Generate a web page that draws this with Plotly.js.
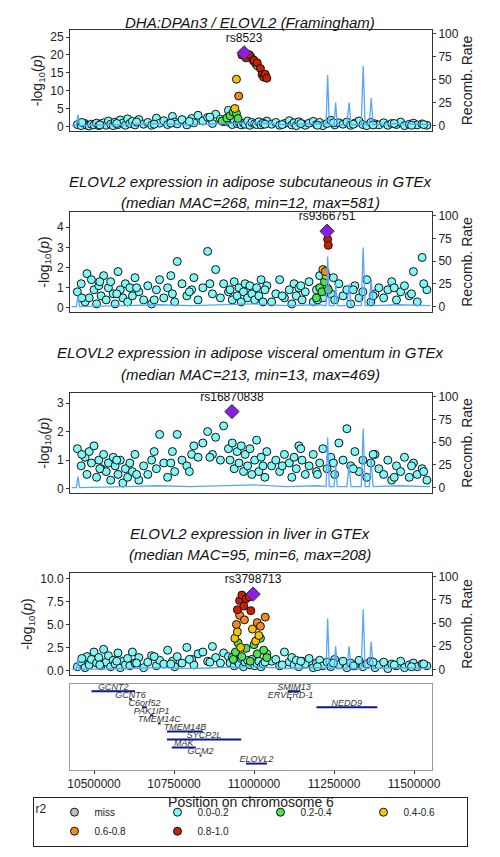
<!DOCTYPE html>
<html><head><meta charset="utf-8">
<script src="https://cdn.plot.ly/plotly-3.0.1.min.js"></script>
<style>body{margin:0;background:#fff}#chart{width:500px;height:857px}</style>
</head><body><div id="chart"></div>
<script>
// ---------------- data (positions in kb) ----------------
const bgPos = [10448,10460,10472,10478,10485,10492,10500,10508,10515,10522,10530,10538,10545,10552,10560,10566,10575,10582,10590,10598,10605,10612,10620,10628,10640,10655,10668,10680,10695,10705,10718,10730,10745,10752,10760,10775,10790,10805,10812,10825,10840,10855,10870,10880,10895,10905,10920,11040,11055,11068,11080,11095,11110,11118,11125,11132,11140,11150,11160,11172,11185,11195,11205,11215,11228,11240,11252,11265,11278,11290,11302,11315,11328,11340,11352,11365,11378,11390,11405,11418,11430,11445,11458,11470,11485,11498,11510,11525,11540];
const bgPos2 = [10925,10932,10938,10947,10953,10960,10967,10972,10980,10987,10993,11002,11008,11015,11022,11028,11034,10462,10518,10571,10633,10688,10740,10798,10862,11088,11146,11198,11248,11310,11372,11438,11492,11530];

const p1Bg = [0.5,0.2,0.8,0.3,0.1,0.6,0.4,0.9,0.2,0.7,1.0,0.3,1.5,0.6,0.2,1.2,0.5,1.8,0.9,0.3,2.1,0.8,1.4,0.4,1.9,0.6,1.1,0.3,2.3,0.9,1.6,0.5,2.8,1.2,0.7,1.9,0.4,2.2,1.0,3.1,1.5,2.5,0.8,3.4,2.0,1.3,4.5,1.5,0.6,1.1,0.3,0.8,1.6,0.4,1.0,0.2,1.3,0.7,0.3,0.9,1.4,0.5,1.1,0.2,0.8,1.7,0.4,1.0,0.6,1.2,0.3,0.9,1.5,0.5,0.2,1.1,0.7,0.4,1.0,0.3,0.8,0.5,1.2,0.2,0.6,0.9,0.4,0.7,0.3];
const p1Bg2 = [1.0,0.5,1.8,0.8,1.2,0.4,0.9,0.6,1.5,0.3,1.1,0.7,0.5,1.3,0.4,0.9,0.6,1.1,0.4,0.8,1.2,0.6,0.9,1.4,2.6,0.5,0.8,0.3,1.0,0.6,0.4,0.8,0.3,0.5];
const p1Green = {pos:[10900,10915,10925,10935,10945,10950,10990,10995,11000,11005,11010], y:[1.5,2.3,3.0,4.0,3.6,2.2,19.5,18.8,18.2,17.6,17.0]};
const p1Yellow = {pos:[10940,10945], y:[5.0,13.2]};
const p1Orange = {pos:[10952], y:[8.5]};
const p1Red = {pos:[10962,10975,10985,11000,11010,11020,11025,11030,11035,11040], y:[20.0,19.2,20.1,18.5,17.8,16.2,14.5,13.8,14.6,13.5]};
const p1Lead = {pos:[10969], y:[20.6], name:["rs8523"]};

const p2Bg = [0.8,1.2,0.3,1.7,0.5,1.4,0.9,0.2,1.1,0.6,1.6,0.4,1.0,1.3,0.7,0.2,1.8,0.9,0.5,1.2,0.3,1.0,0.6,1.5,0.8,0.4,1.1,0.2,0.9,1.4,0.5,1.0,0.7,0.3,2.3,1.2,0.6,0.9,1.5,0.4,1.0,2.8,0.7,1.9,0.5,1.2,0.8,1.1,0.3,0.7,1.4,0.5,0.9,0.2,1.2,0.6,1.0,0.4,0.8,1.3,0.3,0.9,1.6,0.5,1.0,0.7,0.4,1.2,0.6,0.9,0.2,1.1,0.5,0.8,1.4,0.3,0.7,1.0,0.5,0.9,1.3,0.4,0.8,1.1,0.6,1.8,0.3,2.5,0.9];
const p2Bg2 = [0.9,0.4,1.3,0.6,1.0,0.3,0.8,1.2,0.5,1.1,0.7,0.4,1.0,0.6,1.4,0.3,0.9,0.5,1.3,0.7,1.0,0.4,1.6,0.8,1.2,0.6,1.1,0.4,1.5,0.9,0.6,1.0,0.7,1.2];
const p2Green = {pos:[11195,11205,11212,11220,11232], y:[0.5,1.0,0.8,1.3,0.9]};
const p2Yellow = {pos:[11215,11225], y:[1.9,1.6]};
const p2Orange = {pos:[11222], y:[1.8]};
const p2Red = {pos:[11230,11232], y:[3.4,3.1]};
const p2Lead = {pos:[11228], y:[3.8], name:["rs9366751"]};

const p3Bg = [1.4,0.8,1.1,0.5,1.3,0.9,1.5,0.4,1.0,0.7,1.2,0.6,0.9,0.3,1.1,0.8,0.5,1.0,0.2,0.7,0.4,0.9,0.6,1.2,0.3,0.8,0.5,1.0,0.7,1.9,0.9,0.4,1.3,0.6,1.9,1.0,0.8,1.2,1.5,1.1,1.6,2.0,1.2,1.8,1.0,2.2,1.4,1.3,0.8,1.0,0.6,1.2,0.9,0.4,1.1,0.7,1.5,1.0,0.5,0.8,1.2,0.6,0.9,1.4,0.7,1.1,0.5,1.6,1.0,2.1,0.8,1.3,0.6,1.0,0.4,0.9,1.2,0.7,0.5,1.0,0.3,0.8,0.6,1.1,0.4,0.9,0.5,0.7,0.3];
const p3Bg2 = [1.0,1.6,0.7,1.3,0.9,1.5,0.6,1.2,0.8,1.4,0.5,1.0,1.7,0.6,1.1,0.8,0.4,1.2,0.7,1.0,0.5,1.3,0.9,0.6,1.1,0.8,1.4,0.5,0.9,0.7,1.2,0.4,0.8,0.6];
const p3Lead = {pos:[10931], y:[2.7], name:["rs16870838"]};

const p4Bg = [0.4,0.9,0.3,1.5,0.6,1.2,2.0,0.8,1.4,0.5,2.3,0.9,1.6,0.4,1.1,0.7,1.9,0.3,1.0,0.6,1.3,0.5,2.0,0.8,1.4,0.3,0.9,1.6,0.5,1.1,0.7,2.2,1.0,0.4,1.5,0.8,2.5,1.2,0.6,1.8,2.0,1.0,2.6,1.4,0.8,1.9,1.5,1.8,1.0,1.2,0.5,2.0,0.9,1.4,0.6,1.1,0.4,1.0,0.7,1.3,0.3,0.8,1.1,0.5,0.9,0.4,1.2,0.6,1.0,0.3,0.8,0.5,1.1,0.4,0.7,1.0,0.3,0.6,0.9,0.2,0.7,0.5,1.0,0.3,0.6,0.8,0.4,0.7,0.5];
const p4Bg2 = [0.8,1.4,0.5,1.0,0.7,1.3,0.4,0.9,1.1,0.6,1.2,0.5,0.8,1.0,0.4,0.7,0.9,1.3,0.6,1.0,0.8,1.5,0.7,1.2,0.9,0.6,1.0,0.4,0.8,0.5,0.9,0.6,0.4,0.7];
const p4Green = {pos:[10935,10942,10950,10962,10975,10988,11000,11010,11020,11030,11040], y:[1.2,2.0,3.0,1.5,2.4,1.0,2.8,1.8,3.5,2.2,1.4]};
const p4Yellow = {pos:[10940,10948,10958,10995,11005,11015], y:[3.5,4.2,2.5,4.5,3.2,3.8]};
const p4Orange = {pos:[10945,10955,10970,11010,11020,11035], y:[5.0,6.0,5.5,5.2,4.8,5.8]};
const p4Red = {pos:[10948,10955,10962,10968,10975,10985,10990], y:[6.6,7.6,8.2,7.0,7.8,8.0,6.5]};
const p4Lead = {pos:[10997], y:[8.3], name:["rs3798713"]};

const recombPos = [10430,10445,10450,10455,10600,10700,10800,10900,11000,11100,11200,11225,11230,11235,11250,11255,11260,11290,11297,11303,11335,11341,11347,11360,11366,11372,11450,11550];
const recombRate = [0,0,12,0,1,2,1,2,3,1,2,1,55,1,1,25,1,1,25,1,1,65,1,1,30,1,2,1];

const geneNames = ["GCNT2","GCNT6","C6orf52","PAK1IP1","TMEM14C","TMEM14B","SYCP2L","MAK","GCM2","ELOVL2","SMIM13","ERVERD-1","NEDD9"];
const geneStart = [10492,10610,10650,10675,10700,10728,10728,10743,10830,10975,11105,11112,11195];
const geneEnd   = [10628,10618,10665,10685,10708,10840,10960,10818,10836,11040,11145,11116,11385];
const geneRow   = [0,1,2,3,4,5,6,7,8,9,0,1,2];

const r2Labels = ["miss","0.0-0.2","0.2-0.4","0.4-0.6","0.6-0.8","0.8-1.0"];
const r2Colors = ["#bebebe","#7ff8f8","#4ee34e","#f5c400","#f08a1e","#c82000"];

const titles = [
  ["<i>DHA:DPAn3 / ELOVL2 (Framingham)</i>"],
  ["<i>ELOVL2 expression in adipose subcutaneous in GTEx</i>","<i>(median MAC=268, min=12, max=581)</i>"],
  ["<i>ELOVL2 expression in adipose visceral omentum in GTEx</i>","<i>(median MAC=213, min=13, max=469)</i>"],
  ["<i>ELOVL2 expression in liver in GTEx</i>","<i>(median MAC=95, min=6, max=208)</i>"]
];

// ---------------- build ----------------
const H = 857;
const kb = a => a.map(v => v * 1000);
const dom = (top, bot) => [1 - bot / H, 1 - top / H];
const FONT = "Liberation Sans, Arial, sans-serif";

const panels = [
  {bg:p1Bg, bg2:p1Bg2, sets:[null,null,p1Green,p1Yellow,p1Orange,p1Red], lead:p1Lead, top:30, bot:131, yr:[-1.3,27], ticks:[0,5,10,15,20,25]},
  {bg:p2Bg, bg2:p2Bg2, sets:[null,null,p2Green,p2Yellow,p2Orange,p2Red], lead:p2Lead, top:212, bot:312, yr:[-0.2,4.75], ticks:[0,1,2,3,4]},
  {bg:p3Bg, bg2:p3Bg2, sets:[null,null,null,null,null,null], lead:p3Lead, top:393, bot:493, yr:[-0.15,3.35], ticks:[0,1,2,3]},
  {bg:p4Bg, bg2:p4Bg2, sets:[null,null,p4Green,p4Yellow,p4Orange,p4Red], lead:p4Lead, top:573, bot:675, yr:[-0.5,10.6], ticks:[0.0,2.5,5.0,7.5,10.0]}
];

const traces = [];
const layout = {
  width: 500, height: 857, margin: {t:0, b:0, l:0, r:0},
  paper_bgcolor: "#fff", plot_bgcolor: "#fff",
  font: {family: FONT, size: 12, color: "#222"},
  showlegend: true,
  legend: {orientation:"h", x:0.5, xanchor:"center", y:0.012, yanchor:"bottom",
           bordercolor:"#222", borderwidth:1, font:{size:10},
           title:{text:"r2", font:{size:12}}, entrywidth:58, traceorder:"normal"},
  annotations: [], shapes: []
};
const xRange = [10425000, 11556000];
const axLine = {showline:true, mirror:true, linecolor:"#333", linewidth:1, ticks:"outside", ticklen:3, tickcolor:"#333", showgrid:false, zeroline:false};

const marker = c => ({color:c, size:8, line:{color:"#111", width:1}});

panels.forEach((p, i) => {
  const xa = "x" + (i + 1), ya = "y" + (2*i + 1), yr = "y" + (2*i + 2);
  const xk = "xaxis" + (i + 1), yk = "yaxis" + (2*i + 1), rk = "yaxis" + (2*i + 2);
  layout[xk] = Object.assign({}, axLine, {domain:[0.14,0.864], range:xRange, anchor:ya, showticklabels:false, ticks:""});
  layout[yk] = Object.assign({}, axLine, {domain:dom(p.top, p.bot), range:p.yr, anchor:xa, tickvals:p.ticks,
     tickformat: i === 3 ? ".1f" : "d", tickfont:{size:12},
     title:{text:"-log<sub>10</sub>(<i>p</i>)", font:{size:14}, standoff:4}});
  layout[rk] = {overlaying:ya, side:"right", anchor:xa, range:[-6,104], tickvals:[0,25,50,75,100],
     showgrid:false, zeroline:false, ticks:"outside", ticklen:3, tickfont:{size:12},
     title:{text:"Recomb. Rate", font:{size:14}, standoff:2}};
  traces.push({x:kb(recombPos), y:recombRate, xaxis:xa, yaxis:yr, mode:"lines", line:{color:"#5aa5f5", width:1.3}, showlegend:false, hoverinfo:"skip"});
  traces.push({x:kb(bgPos), y:p.bg, xaxis:xa, yaxis:ya, mode:"markers", marker:marker(r2Colors[1]), showlegend:false});
  traces.push({x:kb(bgPos2), y:p.bg2, xaxis:xa, yaxis:ya, mode:"markers", marker:marker(r2Colors[1]), showlegend:false});
  p.sets.forEach((s, k) => { if (s) traces.push({x:kb(s.pos), y:s.y, xaxis:xa, yaxis:ya, mode:"markers", marker:marker(r2Colors[k]), showlegend:false}); });
  traces.push({x:kb(p.lead.pos), y:p.lead.y, text:p.lead.name, xaxis:xa, yaxis:ya, mode:"markers+text", textposition:"top center",
     textfont:{size:12, color:"#111"}, marker:{symbol:"diamond", color:"#8b1fe0", size:11, line:{color:"#333", width:1}}, showlegend:false});
  const ty = i === 0 ? [12] : [[171,192],[353,374],[533,554]][i-1];
  titles[i].forEach((t, j) => layout.annotations.push({text:t, x:0.5, xref:"paper", y:1 - ty[j]/H, yref:"paper", showarrow:false, font:{size:15, color:"#111"}}));
});

// gene panel
layout.xaxis5 = Object.assign({}, axLine, {domain:[0.14,0.864], range:xRange, anchor:"y9", linecolor:"#999", tickvals:[10500000,10750000,11000000,11250000,11500000], tickformat:"d", tickfont:{size:12},
  title:{text:"Position on chromosome 6", font:{size:14}, standoff:6}});
layout.yaxis9 = {domain:dom(684,770), range:[-9.8,0.9], anchor:"x5", showticklabels:false, showgrid:false, zeroline:false, showline:true, mirror:true, linecolor:"#999"};
geneNames.forEach((g, i) => {
  traces.push({x:[geneStart[i]*1000, geneEnd[i]*1000], y:[-geneRow[i], -geneRow[i]], xaxis:"x5", yaxis:"y9", mode:"lines", line:{color:"#0a1a8c", width:2}, showlegend:false});
});
traces.push({x:geneStart.map((s,i) => (s + geneEnd[i]) * 500), y:geneRow.map(r => -r + 0.45), text:geneNames, xaxis:"x5", yaxis:"y9",
  mode:"text", textfont:{size:9, color:"#333", style:"italic"}, showlegend:false});

// legend entries
r2Labels.forEach((l, k) => traces.push({x:[null], y:[null], xaxis:"x1", yaxis:"y1", mode:"markers", name:l, marker:marker(r2Colors[k]), showlegend:true}));

Plotly.newPlot("chart", traces, layout, {staticPlot:true});
</script>
</body></html>
